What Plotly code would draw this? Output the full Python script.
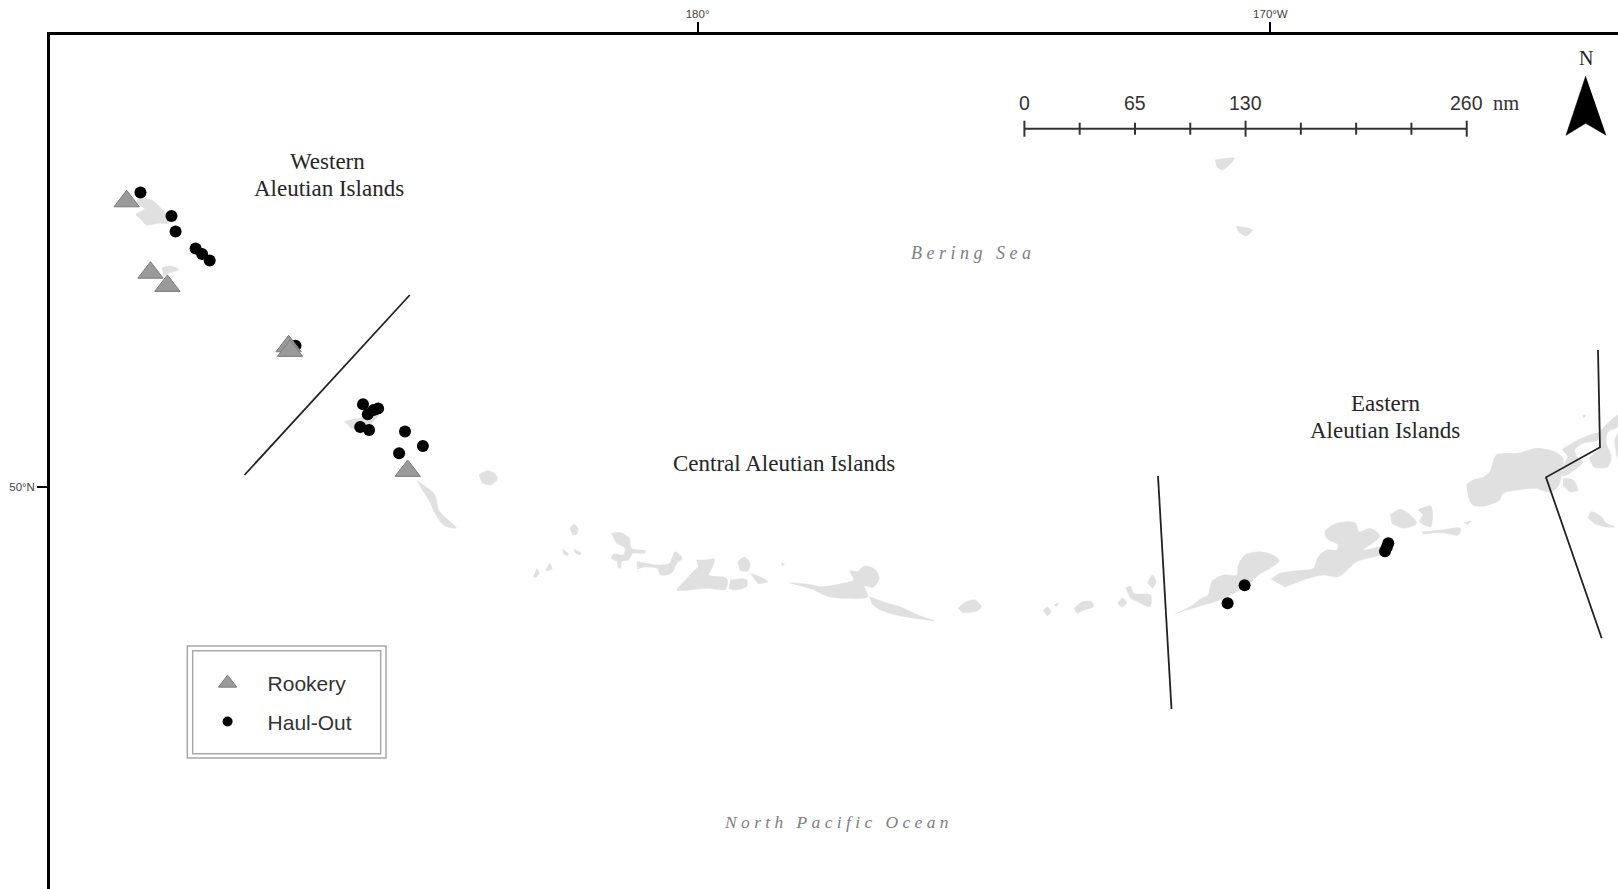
import plotly.graph_objects as go

# map units: projected easting / southing
X_MIN, X_MAX = 50, 1618
Y_MAX, Y_MIN = 889, 35

lon_ticks = [697.6, 1270.4]
lon_labels = ["180°", "170°W"]
lat_ticks = [487]
lat_labels = ["50°N"]

rookery_x = [126.7, 150.5, 167.4, 288.6, 290.0, 407.7]
rookery_y = [201.3, 272.7, 285.9, 346.3, 350.9, 470.9]

haulout_x = [140.5, 171.5, 175.6, 195.6, 202.1, 209.7, 295.5, 363.0, 367.8, 373.6, 378.1,
             360.2, 369.1, 405.0, 422.9, 399.1, 1244.6, 1227.6, 1388.3, 1386.8, 1385.0]
haulout_y = [192.5, 216.1, 231.4, 248.6, 253.9, 260.4, 345.7, 404.3, 414.3, 410.0, 408.6,
             427.1, 430.0, 431.4, 446.1, 453.2, 585.3, 603.3, 543.3, 547.3, 551.3]

# islands, None splits the outlines
west_isl_x = [137.7, 151.5, 163.6, 170.5, 168.7, 158.4, 146.3, 141.2, 136, 144.6, 136, None,
              161.8, 170.5, 179, 168.7, 163.6, None,
              344.4, 358.1, 378.8, 371.9, 361.6, 351.2, None,
              416.7, 427, 434.6, 439, 447.7, 456.3, 444.2, 435.6, 428.7, 421.8, None,
              478.7, 487.3, 494.1, 497.6, 490.7, 482.1]
west_isl_y = [198.2, 200, 210.7, 217.9, 223.2, 223.2, 225, 219.6, 214.3, 208.9, 203.6, None,
              267.9, 266, 269.6, 273.2, 276.8, None,
              421.4, 418.6, 414.3, 423.2, 430.4, 428.6, None,
              480.4, 487.5, 494.6, 510.7, 519.6, 527.9, 525.7, 514.3, 500, 489.3, None,
              475, 470.7, 473.2, 478.6, 485, 482.9]

central_isl_x = [569.6, 573.9, 577.9, 576.8, 572.5, None,
                 562.5, 568.6, 567.1, 562.9, None,
                 574.3, 581.4, 579.3, 573.9, None,
                 549.3, 552.1, 545.4, None,
                 536.8, 539.3, 535.7, 532.9, None,
                 611.4, 621.4, 629.3, 631.4, 645.7, 644.6, 632.9, 628.6, 621.4, 620.7, 617.9, 617.1,
                 611.4, 613.6, 623.2, 625, 616.1, None,
                 636.4, 642.9, 657.1, 669.6, 675, 682.1, 676.8, 671.4, 660.7, 657.1, 642.9, 637.5, None,
                 696.4, 705.4, 714.3, 712.5, 708.9, 726.8, 725.7, 707.1, 689.3, 676.8, 685.7, 692.9, 698.2, None,
                 730.4, 746.4, 747.1, 735.7, 728.6, None,
                 737.5, 744.6, 750, 748.2, 740, None,
                 750, 760, 767.9, 757.9, None,
                 781.1, 784.6, 782.1, None,
                 788.6, 807.1, 821.4, 842.9, 853.6, 850, 857.1, 864.3, 875, 879.3, 873.2, 864.3,
                 867.9, 846.4, 828.6, 814.3, None,
                 869.6, 885.7, 900, 917.9, 933.9, 914.3, 896.4, 878.6, 871.4, None,
                 957.9, 966.1, 975, 981.4, 976.8, 962.5]
central_isl_y = [528.3, 524.3, 528.3, 534, 535, None,
                 549.3, 554, 556, 552.7, None,
                 549.3, 553.3, 555, 551.7, None,
                 562.7, 569.3, 570.7, None,
                 568.3, 572.7, 577.3, 576.7, None,
                 533.3, 532.7, 538.3, 548.3, 551, 553.3, 553.3, 560, 561.7, 568.3, 567.3, 561.7,
                 558.3, 554, 555, 548.3, 543.3, None,
                 561.7, 562.7, 565, 563.3, 551.7, 558.3, 563.3, 573.3, 575, 568.3, 567.3, 569.3, None,
                 560, 560, 559, 567.3, 575, 578.3, 589.3, 588.3, 590, 590, 580, 571.7, 567.3, None,
                 580, 579.3, 586, 590, 588.3, None,
                 561.7, 557.3, 563.3, 570.7, 570.7, None,
                 573.3, 576.7, 581.7, 584, None,
                 562.7, 564, 566, None,
                 582.7, 584, 586.7, 583.3, 580, 570.7, 571.7, 566, 569.3, 578.3, 587.3, 586,
                 596.7, 598.3, 596.7, 590, None,
                 596.7, 602.7, 606.7, 615, 620.7, 618.3, 615, 609.3, 603.3, None,
                 608.3, 601.7, 600, 606.7, 611, 612.7]

east_isl_x = [1043, 1047.4, 1051, 1047.4, None,
              1053.6, 1058.4, 1056.6, None,
              1073.9, 1082.4, 1091.6, 1093.4, 1084.2, 1076.9, None,
              1117.4, 1122.9, 1126.6, 1121.8, None,
              1125.5, 1130.3, 1134, 1150.6, 1149.8, 1137.7, 1130.3, None,
              1147.6, 1152.4, 1156.1, 1152.4, None,
              1175, 1190, 1201.7, 1208.3, 1211.7, 1223.3, 1236.7, 1238.3, 1245, 1260, 1273.3, 1279.3,
              1270, 1258.3, 1250, 1240, 1220, 1203.3, 1186.7, None,
              1271, 1280, 1296.7, 1313.3, 1318.3, 1326.7, 1336.7, 1338.3, 1326.7, 1325, 1336.7, 1355,
              1359.3, 1370, 1376.7, 1380, 1363.3, 1383.3, 1383.3, 1356.7, 1338.3, 1323.3, 1303.3, 1285, None,
              1390, 1400, 1408.3, 1416.7, 1403.3, 1391.7, None,
              1417.8, 1430.7, 1432.6, 1430.7, 1419.7, 1423.3, None,
              1421.5, 1441.8, 1460.2, 1458.4, 1441.8, 1423.3, None,
              1463.9, 1471.3, 1467.6, None,
              1466.3, 1473, 1483, 1489.7, 1496.3, 1508, 1518, 1536.3, 1554.7, 1563, 1561.3, 1558,
              1551.3, 1546.3, 1534.7, 1518, 1503, 1499.7, 1484.7, 1473, 1468, None,
              1562, 1578, 1598, 1598, 1583, 1574.7, 1578, 1583, 1574.7, 1563, 1564.7, 1568, None,
              1598, 1618, 1618, 1608, 1606.3, 1611.3, 1608, 1594.7, 1589.7, 1599.7, 1600.7, None,
              1618, 1614.7, 1618, None,
              1563, 1573, 1578, 1569.7, 1563, None,
              1588, 1591.3, 1601.3, 1606.3, 1614.7, 1608, 1594.7, None,
              1582, 1586, 1584, None,
              1214.8, 1234.5, 1222.7, 1216.8, None,
              1235.7, 1252.3, 1246.3, 1238.5]
east_isl_y = [610.7, 606.7, 611.7, 616, None,
              605, 603.3, 606.7, None,
              608.3, 601.7, 601.7, 606.7, 610, 613.3, None,
              603.3, 598.3, 603.3, 607.3, None,
              588.3, 586, 593.3, 595, 606.7, 601.7, 598.3, None,
              583.3, 575, 581.7, 588.3, None,
              614, 606.7, 598.3, 595, 581.7, 575, 575, 565, 555, 551.7, 555, 560.7,
              568.3, 575, 583.3, 590, 600, 605, 610, None,
              579.3, 573.3, 570.7, 568.3, 556.7, 550, 550, 545, 538.3, 531.7, 523.3, 522.7,
              531.7, 528.3, 531.7, 536.7, 550, 546.7, 553.3, 561.7, 576.7, 575, 580, 587.3, None,
              515, 509.3, 513.3, 523.3, 528.3, 523.3, None,
              510, 506, 516.7, 526.7, 521.7, 515, None,
              531.7, 530, 528.3, 535, 532.7, 534, None,
              522.7, 521, 525, None,
              485, 480, 477.3, 471.7, 455, 453.3, 453.3, 448.3, 451.7, 458.3, 476.7, 486.7,
              491.7, 491.7, 488.3, 490, 493.3, 500, 506, 505, 496.7, None,
              449.3, 440, 433.3, 440, 443.3, 450, 458.3, 461.7, 470, 476, 463.3, 456.7, None,
              433.3, 415, 426.7, 431.7, 443.3, 456.7, 466.7, 467.3, 458.3, 448.3, 440, None,
              433.3, 440, 460, None,
              478.3, 480, 490, 491.7, 485, None,
              518.3, 511.7, 516.7, 523.3, 526.7, 527.3, 524, None,
              414.7, 415.3, 418, None,
              160, 158.3, 170, 166.7, None,
              226, 230, 236, 231.7]

# management area boundaries
divider_x = [244.5, 409.8, None, 1158, 1171.5, None, 1598, 1600, 1546, 1601.7]
divider_y = [475, 295, None, 476, 709, None, 350, 447.3, 477.3, 638.3]

# scale bar
scale_nm = [0, 32.5, 65, 97.5, 130, 162.5, 195, 227.5, 260]
scale_labels = ["0", "65", "130", "260"]
scale_label_nm = [0, 65, 130, 260]
SCALE_X0, SCALE_Y, PX_PER_NM = 1024.4, 128.7, 1.7012

arrow_x = [1585.7, 1566, 1585.7, 1606.2]
arrow_y = [76, 135.3, 123.3, 135.3]

SERIF = "Liberation Serif"
SANS = "Liberation Sans"
ESP = "\u2005"  # spaced out lettering of the sea names


def scale_bar():
    xs = [SCALE_X0 + n * PX_PER_NM for n in scale_nm]
    bar_x = [xs[0], xs[-1], None]
    bar_y = [SCALE_Y, SCALE_Y, None]
    for n, x in zip(scale_nm, xs):
        up, down = (8, 8) if n % 130 == 0 else (6, 6)
        bar_x.extend([x, x, None])
        bar_y.extend([SCALE_Y - up, SCALE_Y + down, None])
    return go.Scatter(x=bar_x, y=bar_y, mode="lines", line=dict(color="#333333", width=2),
                      hoverinfo="skip", showlegend=False)


def etiqueta(x, y, texto, fuente=SERIF, size=23, color="#262626", italica=False, anchor="center"):
    return dict(x=x, y=y, text=texto, showarrow=False, xanchor=anchor, yanchor="middle",
                font=dict(family=fuente, size=size, color=color, style="italic" if italica else "normal"))


fig = go.Figure()

for xs, ys in [(west_isl_x, west_isl_y), (central_isl_x, central_isl_y), (east_isl_x, east_isl_y)]:
    fig.add_trace(go.Scatter(x=xs, y=ys, mode="lines", fill="toself", fillcolor="#e0e0e0",
                             line=dict(color="#e0e0e0", width=0.5, shape="spline", smoothing=0.8),
                             hoverinfo="skip", showlegend=False))

fig.add_trace(go.Scatter(x=divider_x, y=divider_y, mode="lines", line=dict(color="#222222", width=1.8),
                         hoverinfo="skip", showlegend=False))

fig.add_trace(go.Scatter(x=haulout_x, y=haulout_y, mode="markers", name="Haul-Out",
                         marker=dict(symbol="circle", size=12, color="black"), showlegend=False))
fig.add_trace(go.Scatter(x=rookery_x, y=rookery_y, mode="markers", name="Rookery",
                         marker=dict(symbol="triangle-up", size=22, color="#9a9a9a",
                                     line=dict(color="#7c7c7c", width=1)), showlegend=False))

# legend keys are smaller than the marks on the map
fig.add_trace(go.Scatter(x=[None], y=[None], mode="markers", name="Rookery", legendgroup="rookery",
                         marker=dict(symbol="triangle-up", size=16, color="#9a9a9a",
                                     line=dict(color="#7c7c7c", width=1))))
fig.add_trace(go.Scatter(x=[None], y=[None], mode="markers", name="Haul-Out", legendgroup="haulout",
                         marker=dict(symbol="circle", size=10, color="black")))

fig.add_trace(scale_bar())
fig.add_trace(go.Scatter(x=arrow_x, y=arrow_y, mode="lines", fill="toself", fillcolor="black",
                         line=dict(color="black", width=0.5), hoverinfo="skip", showlegend=False))

anotaciones = [
    etiqueta(327, 161.5, "Western"),
    etiqueta(329, 188, "Aleutian Islands"),
    etiqueta(784.3, 463.5, "Central Aleutian Islands"),
    etiqueta(1385, 403.5, "Eastern"),
    etiqueta(1385, 430, "Aleutian Islands"),
    etiqueta(971, 253, ESP.join("Bering Sea"), size=18, color="#808080", italica=True),
    etiqueta(836, 821.5, ESP.join("North Pacific Ocean"), size=17.5, color="#808080", italica=True),
    etiqueta(1585.7, 58.3, "N", size=20),
    etiqueta(1491, 103, "nm", size=20.5, color="#333333", anchor="left"),
]
for n, texto in zip(scale_label_nm, scale_labels):
    anotaciones.append(etiqueta(SCALE_X0 + n * PX_PER_NM, 103, texto, fuente=SANS, size=19.5, color="#333333"))

fig.update_layout(
    width=1618, height=889,
    margin=dict(l=X_MIN, r=0, t=Y_MIN, b=0),
    paper_bgcolor="white", plot_bgcolor="white",
    annotations=anotaciones,
    shapes=[
        dict(type="rect", x0=187.3, x1=386, y0=646, y1=758, line=dict(color="#a8a8a8", width=1.5)),
        dict(type="rect", x0=192.7, x1=380.7, y0=650.7, y1=753.7, line=dict(color="#a8a8a8", width=1.5)),
    ],
    legend=dict(x=(187.6 - X_MIN) / (X_MAX - X_MIN), y=1 - (663 - Y_MIN) / (Y_MAX - Y_MIN),
                xanchor="left", yanchor="top", bgcolor="rgba(0,0,0,0)",
                font=dict(family=SANS, size=21, color="#333333"),
                itemwidth=70, tracegroupgap=8, traceorder="grouped"),
    xaxis=dict(range=[X_MIN, X_MAX], side="top", showgrid=False, zeroline=False,
               showline=True, linecolor="black", linewidth=2.5,
               ticks="outside", ticklen=10, tickwidth=2, tickcolor="black",
               tickvals=lon_ticks, ticktext=lon_labels,
               tickfont=dict(family=SANS, size=11.5, color="#444444")),
    yaxis=dict(range=[Y_MAX, Y_MIN], showgrid=False, zeroline=False,
               showline=True, linecolor="black", linewidth=2.5,
               ticks="outside", ticklen=10, tickwidth=2, tickcolor="black",
               tickvals=lat_ticks, ticktext=lat_labels,
               tickfont=dict(family=SANS, size=11.5, color="#444444")),
)

fig.write_html("out.html", config=dict(displayModeBar=False),
               post_script="document.body.style.margin='0';")
